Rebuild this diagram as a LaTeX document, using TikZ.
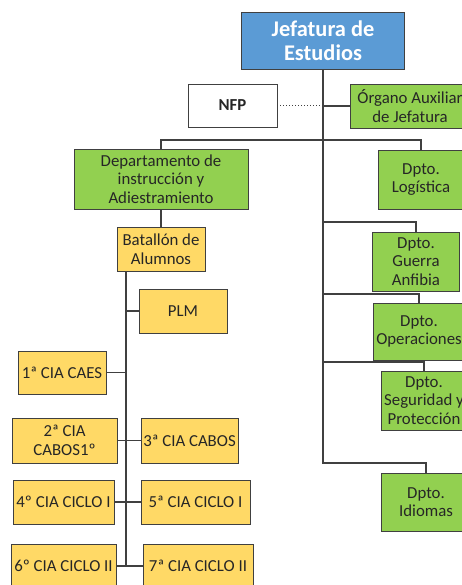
\documentclass[tikz,border=0pt]{standalone}
\usepackage{fontspec}
\setmainfont{Carlito}
\definecolor{jblue}{HTML}{5B9BD5}
\definecolor{dgreen}{HTML}{92D050}
\definecolor{cyel}{HTML}{FFD966}
\definecolor{edge}{HTML}{404040}
\definecolor{txt}{HTML}{262626}
\tikzset{
  box/.style={draw=edge, line width=0.9pt, inner sep=1pt, align=center, text=txt,
    font=\fontsize{16.8}{18.5}\selectfont},
  gbox/.style={box, fill=dgreen},
  ybox/.style={box, fill=cyel},
  wbox/.style={box, fill=white, font=\fontsize{16.8}{18.5}\selectfont\bfseries},
  topbox/.style={box, fill=jblue, text=white, font=\fontsize{22.4}{24}\selectfont\bfseries},
  conn/.style={draw=edge, line width=1.1pt},
}
\begin{document}
\begin{tikzpicture}[x=1pt, y=-1pt]
\useasboundingbox (0,0) rectangle (462,585);
% top
\node[topbox, minimum width=163, minimum height=57] (jef) at (323,40.5) {Jefatura de\\Estudios};
\node[wbox, minimum width=89, minimum height=43] (nfp) at (232.5,105.5) {NFP};
\node[gbox, minimum width=120, minimum height=44] (org) at (410,106) {Órgano Auxiliar\\de Jefatura};
% right column
\node[gbox, minimum width=174, minimum height=60] (dep) at (161,179) {Departamento de\\instrucción y\\Adiestramiento};
\node[gbox, minimum width=86, minimum height=59] (log) at (421,179.5) {Dpto.\\Logística};
\node[gbox, minimum width=87, minimum height=59] (gue) at (416,261.5) {Dpto.\\Guerra\\Anfibia};
\node[gbox, minimum width=92, minimum height=57] (ope) at (419,331.5) {Dpto.\\Operaciones};
\node[gbox, minimum width=86, minimum height=59] (seg) at (424,400.5) {Dpto.\\Seguridad y\\Protección};
\node[gbox, minimum width=90, minimum height=58] (idi) at (426,502) {Dpto.\\Idiomas};
% left column
\node[ybox, minimum width=88, minimum height=44] (bat) at (161,249) {Batallón de\\Alumnos};
\node[ybox, minimum width=88, minimum height=44] (plm) at (183,311) {PLM};
\node[ybox, minimum width=88, minimum height=43] (c1) at (62,372.5) {1ª CIA CAES};
\node[ybox, minimum width=105, minimum height=45] (c2) at (64.5,440.5) {2ª CIA\\CABOS1º};
\node[ybox, minimum width=97, minimum height=45] (c3) at (189.5,440.5) {3ª CIA CABOS};
\node[ybox, minimum width=101, minimum height=44] (c4) at (63.5,502) {4º CIA CICLO I};
\node[ybox, minimum width=109, minimum height=44] (c5) at (195.5,502) {5ª CIA CICLO I};
\node[ybox, minimum width=105, minimum height=44] (c6) at (63.5,566) {6º CIA CICLO II};
\node[ybox, minimum width=110, minimum height=44] (c7) at (198,566) {7ª CIA CICLO II};
% coordinates
\coordinate (sA) at (323,140);
\coordinate (sB) at (323,222);
\coordinate (sC) at (323,294);
\coordinate (sD) at (323,362);
\coordinate (sE) at (323,463);
\coordinate (lsEnd) at (126,566);
% connectors
\draw[conn] (jef.south) -- (sE) -| (idi.north);
\draw[edge, line width=1pt, dotted] (nfp.east) -- (nfp.east -| jef.south);
\draw[conn] (org.west) -- (org.west -| jef.south);
\draw[conn] (dep.north) |- (sA) -| (log.north);
\draw[conn] (sB) -| (gue.north);
\draw[conn] (sC) -| (ope.north);
\draw[conn] (sD) -| (seg.north);
\draw[conn] (dep.south) -- (bat.north);
\draw[conn] (bat.south -| lsEnd) -- (lsEnd);
\draw[conn] (plm.west) -- (plm.west -| lsEnd);
\draw[conn] (c1.east) -- (c1.east -| lsEnd);
\draw[conn] (c2.east) -- (c3.west);
\draw[conn] (c4.east) -- (c5.west);
\draw[conn] (c6.east) -- (c7.west);
\end{tikzpicture}
\end{document}
